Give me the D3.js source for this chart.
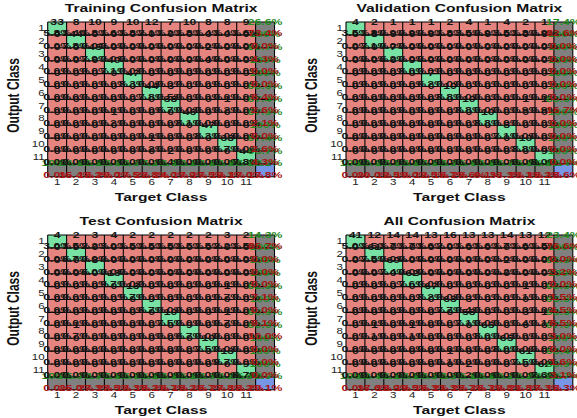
<!DOCTYPE html>
<html>
<head>
<meta charset="utf-8">
<script src="https://cdn.jsdelivr.net/npm/d3@7"></script>
<style>
  html, body { margin: 0; padding: 0; background: #fff; }
  svg { display: block; }
  text { font-family: "Liberation Sans", Arial, Helvetica, sans-serif; }
</style>
</head>
<body>
<svg id="chart" width="577" height="418"></svg>
<script>
// Class labels (output rows / target columns)
const classLabels = ["1", "2", "3", "4", "5", "6", "7", "8", "9", "10", "11"];

// Confusion counts: rows = output class, columns = target class
const trainingCounts = [
  [33, 8, 10, 9, 10, 12, 7, 10, 8, 8, 9],
  [0, 44, 0, 0, 0, 0, 0, 0, 0, 0, 0],
  [0, 0, 45, 0, 0, 0, 0, 0, 2, 0, 0],
  [0, 0, 0, 40, 0, 0, 0, 0, 0, 0, 0],
  [0, 0, 0, 0, 47, 0, 0, 0, 0, 0, 0],
  [0, 0, 0, 0, 0, 44, 3, 0, 0, 0, 0],
  [0, 0, 0, 0, 0, 0, 38, 0, 0, 1, 0],
  [0, 0, 0, 1, 0, 0, 0, 46, 0, 0, 0],
  [0, 0, 0, 0, 0, 0, 0, 0, 47, 0, 0],
  [0, 0, 0, 0, 0, 1, 0, 0, 0, 38, 0],
  [0, 0, 0, 0, 0, 0, 2, 0, 0, 0, 44]
];

const validationCounts = [
  [4, 2, 1, 1, 1, 2, 4, 1, 4, 2, 1],
  [0, 8, 0, 0, 0, 0, 0, 0, 0, 0, 0],
  [0, 0, 7, 0, 0, 0, 0, 0, 0, 0, 0],
  [0, 0, 0, 9, 0, 0, 0, 0, 0, 0, 0],
  [0, 0, 0, 0, 7, 0, 0, 0, 0, 0, 0],
  [0, 0, 0, 0, 0, 10, 0, 0, 0, 0, 0],
  [0, 0, 0, 0, 0, 0, 10, 0, 0, 1, 1],
  [0, 0, 0, 0, 0, 0, 0, 10, 0, 0, 0],
  [0, 0, 0, 0, 0, 0, 0, 0, 8, 0, 0],
  [0, 0, 0, 0, 0, 0, 0, 0, 0, 10, 0],
  [0, 0, 0, 0, 0, 0, 0, 0, 0, 0, 9]
];

const testCounts = [
  [4, 2, 3, 4, 2, 2, 2, 2, 2, 3, 2],
  [0, 9, 0, 0, 0, 0, 0, 0, 0, 0, 0],
  [0, 0, 8, 0, 0, 0, 0, 0, 0, 0, 0],
  [0, 0, 0, 13, 0, 0, 0, 0, 0, 0, 0],
  [0, 0, 0, 0, 13, 0, 0, 0, 0, 1, 0],
  [0, 0, 0, 0, 0, 9, 0, 0, 0, 0, 0],
  [0, 0, 0, 0, 0, 0, 10, 0, 0, 1, 0],
  [0, 1, 0, 0, 0, 0, 0, 9, 0, 0, 0],
  [0, 0, 0, 0, 0, 0, 0, 0, 10, 0, 0],
  [0, 0, 0, 0, 0, 0, 0, 0, 0, 13, 0],
  [0, 0, 0, 0, 0, 0, 0, 0, 0, 0, 9]
];

const allCounts = [
  [41, 12, 14, 14, 13, 16, 13, 13, 14, 13, 12],
  [0, 61, 0, 0, 0, 0, 0, 0, 0, 0, 0],
  [0, 0, 60, 0, 0, 0, 0, 0, 2, 0, 0],
  [0, 0, 0, 62, 0, 0, 0, 0, 0, 0, 0],
  [0, 0, 0, 0, 67, 0, 0, 0, 0, 1, 0],
  [0, 0, 0, 0, 0, 63, 3, 0, 0, 0, 0],
  [0, 0, 0, 0, 0, 0, 58, 0, 0, 3, 1],
  [0, 1, 0, 1, 0, 0, 0, 65, 0, 0, 0],
  [0, 0, 0, 0, 0, 0, 0, 0, 65, 0, 0],
  [0, 0, 0, 0, 0, 1, 0, 0, 0, 61, 0],
  [0, 0, 0, 0, 0, 0, 2, 0, 0, 0, 62]
];

const panelTitles = ["Training Confusion Matrix", "Validation Confusion Matrix",
                     "Test Confusion Matrix", "All Confusion Matrix"];

const COLORS = {
  hit: "#78e2a4",     // diagonal
  miss: "#e6857f",    // off-diagonal
  summary: "#808080", // totals row/column
  overall: "#7896e6", // overall accuracy
  good: "#1f8a1f",
  bad: "#a81414"
};

// Glyphs are drawn wide: every text gets this horizontal stretch
const STRETCH = 1.36;

const svg = d3.select("#chart");
const n = classLabels.length;
const cellW = 18.9, cellH = 12.9;

const panels = [
  { counts: trainingCounts, title: panelTitles[0], left: 47.7, top: 22 },
  { counts: validationCounts, title: panelTitles[1], left: 346, top: 22 },
  { counts: testCounts, title: panelTitles[2], left: 47.7, top: 235 },
  { counts: allCounts, title: panelTitles[3], left: 346, top: 235 }
];

function pct(v) {
  if (!isFinite(v)) return "NaN%";
  if (v === 100) return "100%";
  return v.toFixed(1) + "%";
}

function place(x, y, extra) {
  return `translate(${x},${y}) scale(${STRETCH},1)` + (extra ? " " + extra : "");
}

panels.forEach(p => drawPanel(p));

function drawPanel(p) {
  const M = p.counts;
  const total = d3.sum(M, r => d3.sum(r));
  const rowSums = M.map(r => d3.sum(r));
  const colSums = d3.range(n).map(j => d3.sum(M, r => r[j]));
  const correct = d3.sum(d3.range(n), i => M[i][i]);

  const x = d3.scaleBand().domain(d3.range(n + 1)).range([p.left, p.left + (n + 1) * cellW]);
  const y = d3.scaleBand().domain(d3.range(n + 1)).range([p.top, p.top + (n + 1) * cellH]);
  const bottom = p.top + (n + 1) * cellH;
  const right = p.left + (n + 1) * cellW;

  const g = svg.append("g");

  const cells = [];
  for (let i = 0; i <= n; i++) {
    for (let j = 0; j <= n; j++) {
      let fill, t1, t2, kind;
      if (i < n && j < n) {
        fill = i === j ? COLORS.hit : COLORS.miss;
        t1 = String(M[i][j]);
        t2 = pct(M[i][j] / total * 100);
        kind = "cell";
      } else if (i < n && j === n) {
        fill = COLORS.summary;
        const a = M[i][i] / rowSums[i] * 100;
        t1 = pct(a); t2 = pct(100 - a);
        kind = "sum";
      } else if (i === n && j < n) {
        fill = COLORS.summary;
        const a = M[j][j] / colSums[j] * 100;
        t1 = pct(a); t2 = pct(100 - a);
        kind = "sum";
      } else {
        fill = COLORS.overall;
        const a = correct / total * 100;
        t1 = pct(a); t2 = pct(100 - a);
        kind = "sum";
      }
      cells.push({ i, j, fill, t1, t2, kind });
    }
  }

  g.selectAll("rect").data(cells).join("rect")
    .attr("x", d => x(d.j)).attr("y", d => y(d.i))
    .attr("width", x.bandwidth()).attr("height", y.bandwidth())
    .attr("fill", d => d.fill);

  // cell borders
  const gl = g.append("g").attr("stroke", "#000").attr("stroke-width", 1.1);
  d3.range(n + 2).forEach(k => {
    const yy = k <= n ? y(k) : bottom;
    gl.append("line").attr("x1", p.left).attr("x2", right).attr("y1", yy).attr("y2", yy);
    const xx = k <= n ? x(k) : right;
    gl.append("line").attr("y1", p.top).attr("y2", bottom).attr("x1", xx).attr("x2", xx);
  });

  // cell texts: upper line on the top edge, lower line on the bottom edge
  const tg = g.append("g").attr("font-size", 9).attr("font-weight", "bold")
    .attr("text-anchor", "middle");
  tg.selectAll("text.t1").data(cells).join("text").attr("class", "t1")
    .attr("transform", d => place(x(d.j) + cellW / 2, y(d.i) + 2.5))
    .attr("fill", d => d.kind === "sum" ? COLORS.good : "#151515")
    .text(d => d.t1);
  tg.selectAll("text.t2").data(cells).join("text").attr("class", "t2")
    .attr("transform", d => place(x(d.j) + cellW / 2, y(d.i) + cellH + 0.8))
    .attr("fill", d => d.kind === "sum" ? COLORS.bad : "#151515")
    .text(d => d.t2);

  // axes
  const xAxis = d3.axisBottom(d3.scaleBand().domain(classLabels).range([p.left, p.left + n * cellW]))
    .tickSize(0).tickPadding(2);
  const ax = g.append("g").attr("transform", `translate(0,${bottom})`).call(xAxis);
  ax.select(".domain").remove();
  ax.selectAll("text").attr("font-size", 8.5).attr("fill", "#222")
    .attr("font-family", "Liberation Sans, Arial, sans-serif")
    .attr("transform", `scale(${STRETCH},1)`);

  const yAxis = d3.axisLeft(d3.scaleBand().domain(classLabels).range([p.top, p.top + n * cellH]))
    .tickSize(0).tickPadding(3);
  const ay = g.append("g").attr("transform", `translate(${p.left},0)`).call(yAxis);
  ay.select(".domain").remove();
  ay.selectAll("text").attr("font-size", 8.5).attr("fill", "#222")
    .attr("font-family", "Liberation Sans, Arial, sans-serif")
    .attr("x", -3 / STRETCH)
    .attr("transform", `scale(${STRETCH},1)`);

  const cx = p.left + (n + 1) * cellW / 2;
  const lab = g.append("g").attr("text-anchor", "middle").attr("font-size", 11.5)
    .attr("font-weight", "bold").attr("fill", "#111");
  lab.append("text").attr("transform", place(cx, p.top - 10)).text(p.title);
  lab.append("text").attr("transform", place(cx, bottom + 24)).text("Target Class");
  const cy = p.top + (n + 1) * cellH / 2 - 4;
  lab.append("text").attr("transform", place(p.left - 29, cy, "rotate(-90)"))
    .attr("font-size", 12).text("Output Class");
}
</script>
</body>
</html>
